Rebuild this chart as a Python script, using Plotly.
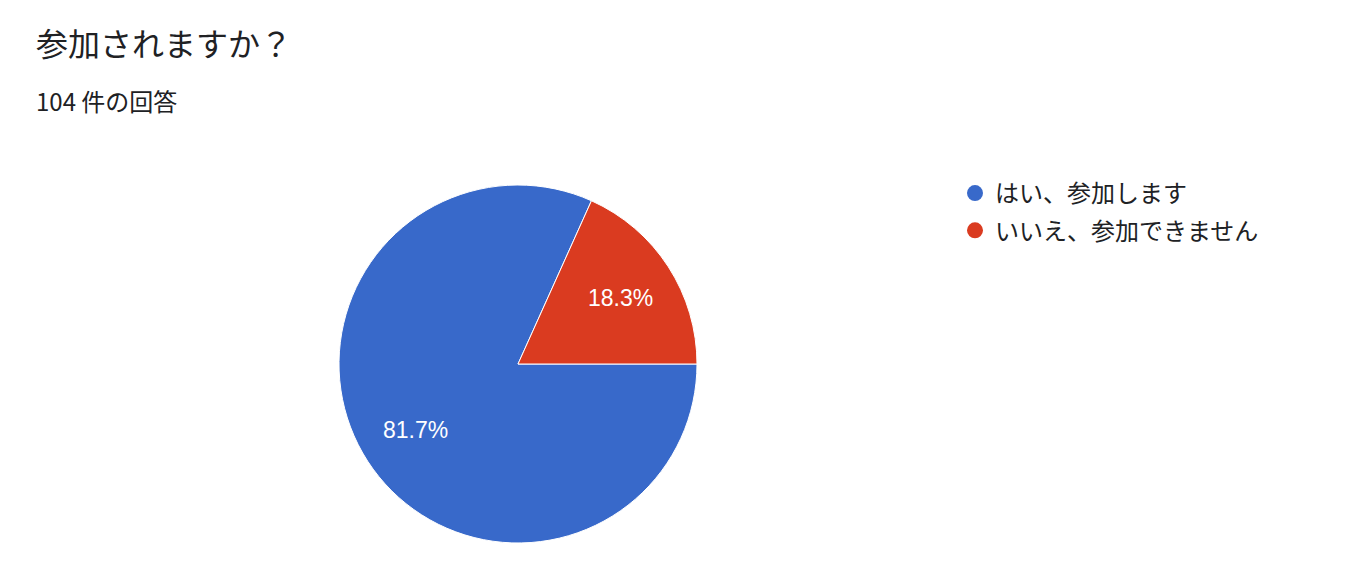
import math
import plotly.graph_objects as go

labels = ["はい、参加します", "いいえ、参加できません"]
counts = [85, 19]
colors = ["#3869CA", "#DA3B20"]
title = "参加されますか？"
subtitle = "104 件の回答"

W, H = 1348, 582
OX, OY = 8, 8  # page body margin


def px(x):
    return (x - OX) / W


def py(y):
    return 1 - (y - OY) / H


cx, cy, r = 518, 364, 179
start_deg = 90  # clockwise from 12 o'clock

fig = go.Figure()
fig.add_trace(go.Pie(
    labels=labels, values=counts, sort=False, direction="clockwise", rotation=start_deg,
    marker=dict(colors=colors, line=dict(color="white", width=1)),
    textinfo="none", showlegend=False, hoverinfo="skip",
    domain=dict(x=[px(cx - r), px(cx + r)], y=[py(cy + r), py(cy - r)]),
))

# percentage labels placed at 0.68 of the radius along each slice's middle angle
total = sum(counts)
acc = 0
for c in counts:
    mid = start_deg + (acc + c / 2) / total * 360
    acc += c
    lx = cx + 0.68 * r * math.sin(math.radians(mid))
    ly = cy - 0.68 * r * math.cos(math.radians(mid))
    fig.add_annotation(text=f"{c / total * 100:.1f}%", x=px(lx), y=py(ly),
                       xref="paper", yref="paper", showarrow=False,
                       xanchor="center", yanchor="middle",
                       font=dict(size=23, color="white", family="Liberation Sans, Arial"))

for lab, col in zip(labels, colors):
    fig.add_trace(go.Scatter(x=[None], y=[None], mode="markers", name=lab, legendgroup=lab,
                             marker=dict(symbol="circle", size=24, color=col)))

fig.update_xaxes(visible=False)
fig.update_yaxes(visible=False)
fig.add_annotation(text=title, x=px(34), y=py(42), xref="paper", yref="paper",
                   xanchor="left", yanchor="middle", showarrow=False,
                   font=dict(size=32, color="#202124", family="Noto Sans CJK JP"))
fig.add_annotation(text=subtitle, x=px(34), y=py(100), xref="paper", yref="paper",
                   xanchor="left", yanchor="middle", showarrow=False,
                   font=dict(size=24, color="#202124", family="Noto Sans CJK JP"))
fig.update_layout(
    width=W, height=H, margin=dict(l=0, r=0, t=0, b=0),
    paper_bgcolor="white", plot_bgcolor="white",
    legend=dict(x=px(955), y=py(171), xanchor="left", yanchor="top",
                font=dict(size=24, color="#202124", family="Noto Sans CJK JP"),
                itemsizing="trace", tracegroupgap=3),
)
fig.write_html("out.html")
